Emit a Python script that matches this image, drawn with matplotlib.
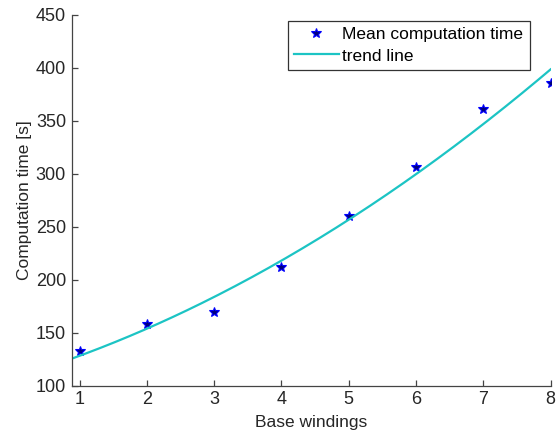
import numpy as np
import matplotlib
matplotlib.use('Agg')
import matplotlib.pyplot as plt

plt.rcParams['font.family'] = ['Liberation Sans', 'DejaVu Sans']

# Datos
windings = [1, 2, 3, 4, 5, 6, 7, 8]
mean_time = [133, 158, 170, 212, 260, 306, 361, 386]

# Linea de tendencia (ajuste cuadratico de los datos)
coef = np.polyfit(windings, mean_time, 2)
x_fit = np.linspace(0.88, 8, 200)
y_fit = np.polyval(coef, x_fit)

fig = plt.figure(figsize=(5.59, 4.34), dpi=100)
ax = fig.add_axes([0.128, 0.111, 0.857, 0.855])

ax.plot(windings, mean_time, linestyle='none', marker='*', markersize=7.5,
        markerfacecolor='#000080', markeredgecolor='#0000ff', markeredgewidth=0.8,
        label='Mean computation time')
ax.plot(x_fit, y_fit, color='#1cc4c4', linewidth=1.6, label='trend line')

ax.set_xlim(0.88, 8)
ax.set_ylim(100, 450)
ax.set_xticks(range(1, 9))
ax.set_yticks(range(100, 451, 50))
ax.set_xlabel('Base windings', fontsize=12.5, color='#262626', labelpad=5)
ax.set_ylabel('Computation time [s]', fontsize=12.5, color='#262626', labelpad=3)

for s in ['top', 'right']:
    ax.spines[s].set_visible(False)
for s in ['left', 'bottom']:
    ax.spines[s].set_color('#444444')
    ax.spines[s].set_linewidth(0.9)
ax.tick_params(direction='in', length=4, width=0.9, color='#444444',
               labelsize=13, labelcolor='#262626', pad=4)

leg = ax.legend(loc='upper right', bbox_to_anchor=(0.956, 0.983),
                fontsize=12.5, fancybox=False, framealpha=1, borderpad=0.35,
                handlelength=2.6, handletextpad=0.2, labelspacing=0.35,
                borderaxespad=0)
leg.get_frame().set_edgecolor('#333333')
leg.get_frame().set_linewidth(0.9)

plt.savefig('out.png', dpi=100)
